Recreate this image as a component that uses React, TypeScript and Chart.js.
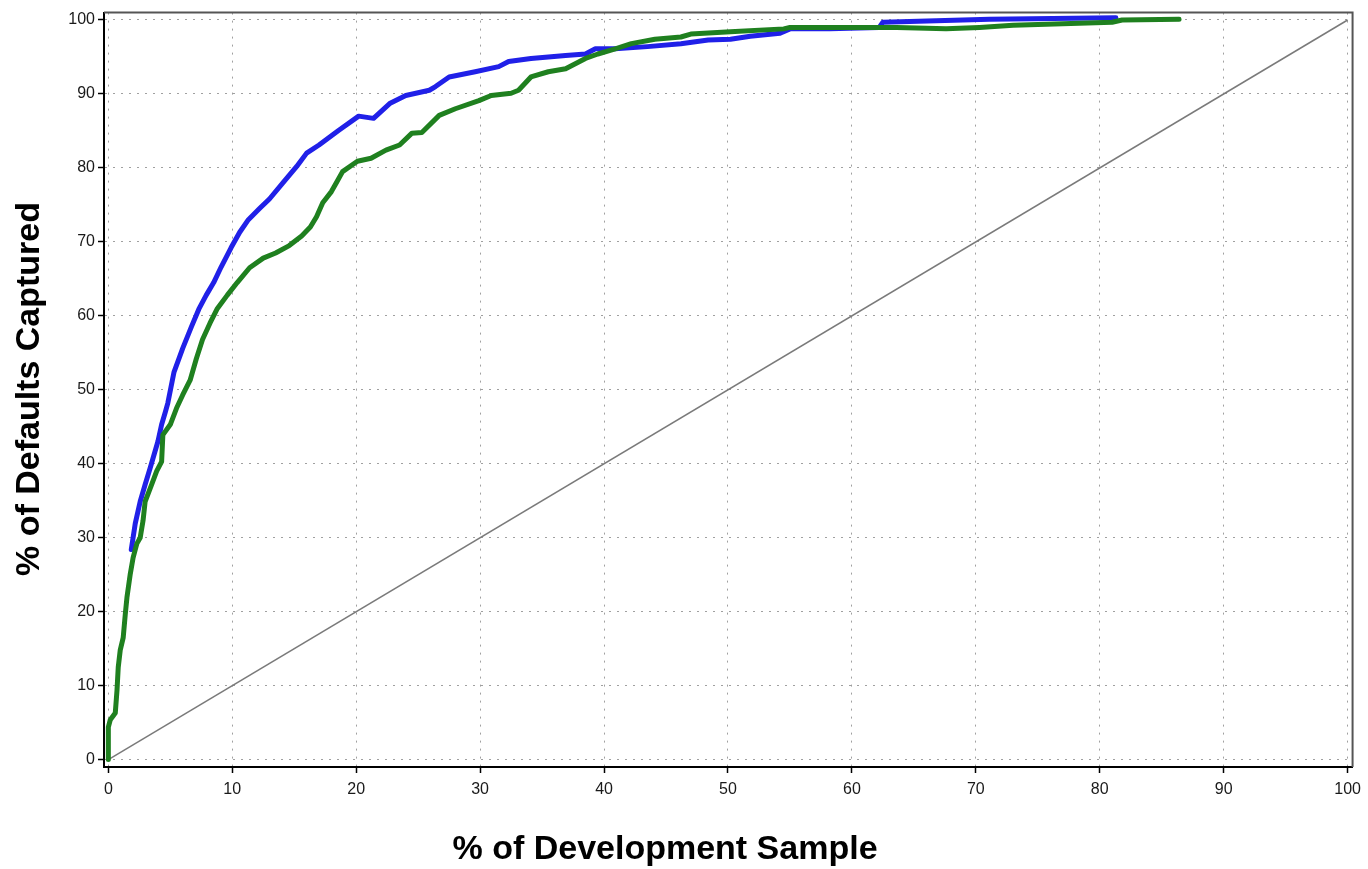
import React, { useEffect, useRef } from "react";
import { Chart, registerables } from "chart.js";

Chart.register(...registerables);

// Cumulative capture curves (x: % of sample, y: % of defaults captured)
const blueX = [1.85, 2.17, 2.57, 2.97, 3.37, 3.6, 4.0, 4.3, 4.6, 4.8, 5.05, 5.3, 6.0, 6.7, 7.3, 7.9, 8.5, 9.1, 9.9, 10.6, 11.3, 12.2, 13.0, 14.1, 15.2, 16.0, 17.0, 18.6, 20.2, 21.4, 22.7, 24.0, 25.9, 26.4, 27.5, 29.6, 31.5, 32.3, 34.1, 36.9, 38.5, 39.3, 40.9, 43.5, 46.2, 48.4, 50.2, 51.8, 54.2, 55.0, 58.2, 62.2, 62.5, 71.1, 81.3];
const blueY = [28.4, 31.9, 34.9, 37.2, 39.4, 40.7, 43.0, 45.3, 47.0, 48.2, 50.3, 52.4, 55.6, 58.5, 60.9, 62.8, 64.5, 66.6, 69.2, 71.3, 73.0, 74.5, 75.8, 78.0, 80.2, 82.0, 83.1, 85.1, 87.0, 86.7, 88.7, 89.8, 90.5, 91.0, 92.3, 93.0, 93.7, 94.4, 94.8, 95.2, 95.4, 96.1, 96.1, 96.4, 96.8, 97.3, 97.4, 97.8, 98.2, 98.8, 98.8, 99.0, 99.7, 100.1, 100.3];

const greenX = [0, 0, 0.16, 0.56, 0.7, 0.8, 0.96, 1.2, 1.37, 1.5, 1.77, 2.0, 2.3, 2.57, 2.8, 2.97, 3.5, 3.9, 4.3, 4.4, 5.0, 5.5, 6.0, 6.6, 7.1, 7.6, 8.2, 8.8, 9.6, 10.4, 11.4, 12.5, 13.5, 14.6, 15.6, 16.3, 16.8, 17.3, 18.0, 18.4, 18.9, 20.1, 21.2, 22.4, 23.5, 24.5, 25.3, 26.7, 28.0, 29.9, 30.9, 32.5, 33.1, 34.1, 35.5, 36.9, 38.5, 39.5, 40.9, 42.2, 44.1, 46.2, 47.0, 50.2, 54.5, 55.0, 63.6, 67.6, 70.3, 73.0, 81.0, 81.8, 86.4];
const greenY = [0, 4.4, 5.4, 6.3, 9.4, 12.5, 14.8, 16.5, 19.7, 21.9, 25.1, 27.3, 29.2, 30.0, 32.3, 34.9, 37.2, 39.0, 40.3, 43.9, 45.3, 47.5, 49.3, 51.3, 54.2, 56.8, 59.0, 61.0, 62.8, 64.5, 66.5, 67.8, 68.5, 69.5, 70.8, 72.0, 73.4, 75.3, 76.8, 78.0, 79.5, 80.9, 81.3, 82.4, 83.1, 84.7, 84.8, 87.1, 88.0, 89.1, 89.8, 90.1, 90.5, 92.3, 93.0, 93.4, 94.8, 95.4, 96.1, 96.8, 97.4, 97.7, 98.1, 98.4, 98.8, 99.0, 99.0, 98.8, 99.0, 99.3, 99.7, 100.0, 100.1];

// Random-model reference line
const diagX = [0, 100];
const diagY = [0, 100];

const xTicks = [0, 10, 20, 30, 40, 50, 60, 70, 80, 90, 100];
const yTicks = [0, 10, 20, 30, 40, 50, 60, 70, 80, 90, 100];

const xTitle = "% of Development Sample";
const yTitle = "% of Defaults Captured";

const toPoints = (xs: number[], ys: number[]) => xs.map((x, i) => ({ x, y: ys[i] }));

const frameAndTitles = {
  id: "frameAndTitles",
  afterDraw(chart: any) {
    const { ctx, chartArea } = chart;
    ctx.save();
    // top and right frame lines
    ctx.strokeStyle = "#555";
    ctx.lineWidth = 2;
    ctx.beginPath();
    ctx.moveTo(chartArea.left, chartArea.top);
    ctx.lineTo(chartArea.right, chartArea.top);
    ctx.lineTo(chartArea.right, chartArea.bottom);
    ctx.stroke();
    // axis titles
    ctx.fillStyle = "#000";
    ctx.font = "bold 34px Arial, 'Liberation Sans', sans-serif";
    ctx.textAlign = "center";
    ctx.textBaseline = "middle";
    ctx.fillText(xTitle, 665, 850);
    ctx.translate(30, 389);
    ctx.rotate(-Math.PI / 2);
    ctx.fillText(yTitle, 0, 0);
    ctx.restore();
  },
};

export default function App() {
  const canvasRef = useRef<HTMLCanvasElement | null>(null);

  useEffect(() => {
    if (!canvasRef.current) return;
    const tickFont = { family: "Arial, 'Liberation Sans', sans-serif", size: 16 };
    const grid = {
      color: "#a0a0a0",
      lineWidth: 1,
      tickColor: "#000",
      tickWidth: 1.5,
      tickLength: 6,
      tickBorderDash: [],
    };
    // in Chart.js 4 the grid-line dash lives under `border`
    const border = { color: "#000", width: 2, dash: [2, 6] };
    const chart = new Chart(canvasRef.current, {
      type: "line",
      data: {
        datasets: [
          {
            label: "Validation",
            data: toPoints(greenX, greenY),
            borderColor: "#1f801f",
            borderWidth: 5,
            borderCapStyle: "round",
            borderJoinStyle: "round",
            pointRadius: 0,
            tension: 0,
          },
          {
            label: "Development",
            data: toPoints(blueX, blueY),
            borderColor: "#2020e8",
            borderWidth: 5,
            borderCapStyle: "round",
            borderJoinStyle: "round",
            pointRadius: 0,
            tension: 0,
          },
          {
            label: "Random",
            data: toPoints(diagX, diagY),
            borderColor: "#7a7a7a",
            borderWidth: 1.5,
            pointRadius: 0,
            tension: 0,
          },
        ],
      },
      options: {
        animation: false,
        responsive: true,
        maintainAspectRatio: false,
        layout: { padding: { top: 9, right: 10, left: 0, bottom: 0 } },
        plugins: { legend: { display: false }, tooltip: { enabled: false } },
        scales: {
          x: {
            type: "linear",
            min: -0.35,
            max: 100.4,
            grid,
            border,
            ticks: { font: tickFont, color: "#1a1a1a", padding: 7, maxRotation: 0 },
            afterBuildTicks: (scale: any) => {
              scale.ticks = xTicks.map((v) => ({ value: v }));
            },
            afterFit: (scale: any) => {
              scale.height = 102;
            },
          },
          y: {
            type: "linear",
            min: -1,
            max: 101,
            grid,
            border,
            ticks: { font: tickFont, color: "#1a1a1a", padding: 3 },
            afterBuildTicks: (scale: any) => {
              scale.ticks = yTicks.map((v) => ({ value: v }));
            },
            afterFit: (scale: any) => {
              scale.width = 104;
            },
          },
        },
      },
      plugins: [frameAndTitles],
    } as any);
    return () => chart.destroy();
  }, []);

  return (
    <div
      style={{
        position: "fixed",
        left: 0,
        top: 0,
        width: 1368,
        height: 869,
        background: "#fff",
      }}
    >
      <canvas ref={canvasRef} />
    </div>
  );
}
